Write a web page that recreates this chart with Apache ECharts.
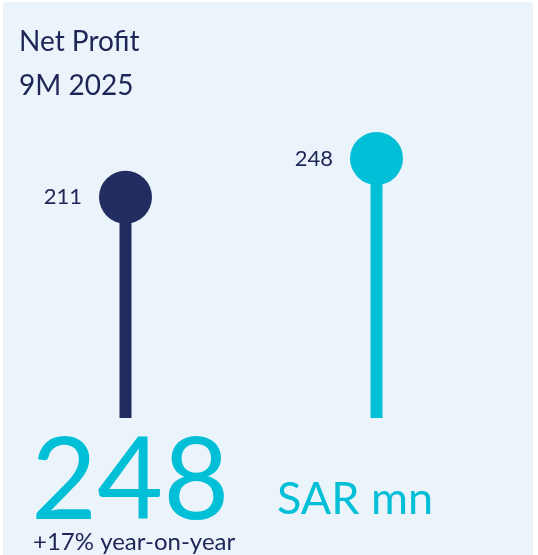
<!DOCTYPE html>
<html>
<head>
<meta charset="utf-8">
<script src="https://cdn.jsdelivr.net/npm/echarts@6/dist/echarts.min.js"></script>
<style>
    html, body {margin: 0; padding: 0; background: #fff;}
    #chart {width: 538px; height: 555px;}
</style>
</head>
<body>
<div id="chart"></div>
<script>
const categories = ['9M 2024', '9M 2025']
const values = [211, 248]
const colors = ['#232C61', '#00BFD7']
const title_lines = ['Net Profit', '9M 2025']
const headline_value = '248'
const headline_unit = 'SAR mn'
const headline_change = '+17% year-on-year'

const NAVY = '#1F2556'
const FONT = 'Lato'

const chart = echarts.init(document.getElementById('chart'))

chart.setOption({
    backgroundColor: '#fff',
    animation: false,
    grid: {left: 0, right: 36, top: 104, bottom: 137},
    xAxis: {
        type: 'category',
        data: categories,
        show: false,
    },
    yAxis: {
        type: 'value',
        min: 0,
        max: 300,
        show: false,
    },
    graphic: [
        {
            type: 'rect',
            z: -10,
            shape: {x: 3, y: 2, width: 530, height: 553},
            style: {fill: '#EBF4FA'},
        },
        {
            type: 'text',
            style: {x: 19, y: 42, text: title_lines[0], font: `28px ${FONT}`, fill: NAVY, verticalAlign: 'middle'},
        },
        {
            type: 'text',
            style: {x: 19, y: 86, text: title_lines[1], font: `28px ${FONT}`, fill: NAVY, verticalAlign: 'middle'},
        },
        {
            type: 'text',
            style: {x: 31, y: 482, text: headline_value, font: `114px ${FONT}`, fill: '#00BFD7', verticalAlign: 'middle'},
        },
        {
            type: 'text',
            style: {x: 277, y: 499, text: headline_unit, font: `45px ${FONT}`, fill: '#00BFD7', verticalAlign: 'middle'},
        },
        {
            type: 'text',
            style: {x: 33, y: 542, text: headline_change, font: `24px ${FONT}`, fill: NAVY, verticalAlign: 'middle'},
        },
    ],
    series: [
        {
            type: 'bar',
            barWidth: 12,
            data: values.map((v, i) => ({value: v, itemStyle: {color: colors[i]}})),
            silent: true,
        },
        {
            type: 'scatter',
            symbol: 'circle',
            symbolSize: 53,
            data: values.map((v, i) => ({value: v, itemStyle: {color: colors[i], opacity: 1}})),
            label: {
                show: true,
                position: 'left',
                distance: 17,
                color: NAVY,
                fontFamily: FONT,
                fontSize: 22,
            },
            z: 3,
        },
    ],
})
</script>
</body>
</html>
